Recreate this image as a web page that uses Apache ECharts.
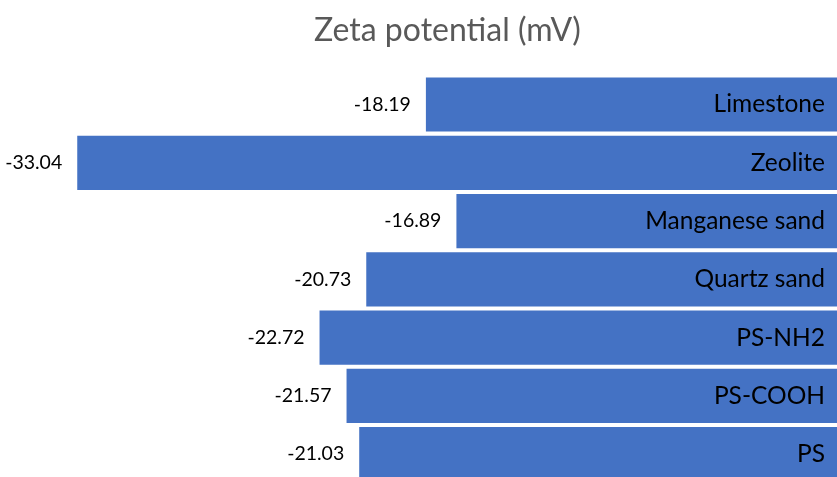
<!DOCTYPE html>
<html>
<head>
<meta charset="utf-8">
<script src="https://cdn.jsdelivr.net/npm/echarts@6/dist/echarts.min.js"></script>
<style>html,body{margin:0;padding:0;background:#fff}#c{width:837px;height:477px}</style>
</head>
<body>
<div id="c"></div>
<script>
const categories = ['Limestone', 'Zeolite', 'Manganese sand', 'Quartz sand', 'PS-NH2', 'PS-COOH', 'PS'];
const values = [-18.19, -33.04, -16.89, -20.73, -22.72, -21.57, -21.03];
const titleText = 'Zeta potential (mV)';

const chart = echarts.init(document.getElementById('c'));
chart.setOption({
  animation: false,
  title: {
    text: titleText,
    left: 309, top: 10,
    textStyle: { fontFamily: 'Lato', fontSize: 32, fontWeight: 'normal', color: '#595959' }
  },
  grid: { left: 0, width: 837, top: 75.35, height: 408, containLabel: false, outerBoundsMode: 'none' },
  xAxis: { type: 'value', min: -36.33, max: -0.68, show: false },
  yAxis: { type: 'category', data: categories, inverse: true, show: false },
  series: [
    {
      type: 'bar', data: values, barCategoryGap: '7%', clip: false,
      itemStyle: { color: '#4472C4' },
      label: {
        show: true, position: 'left', distance: 15,
        formatter: p => p.value.toFixed(2),
        fontFamily: 'Lato', fontSize: 19.5, color: '#000'
      }
    },
    {
      type: 'bar', data: values, barGap: '-100%', barCategoryGap: '7%', clip: false,
      itemStyle: { color: 'rgba(0,0,0,0)' },
      label: {
        show: true, position: 'insideRight', distance: 28,
        formatter: p => p.name,
        fontFamily: 'Lato', fontSize: 24.5, color: '#000'
      }
    }
  ]
});
</script>
</body>
</html>
